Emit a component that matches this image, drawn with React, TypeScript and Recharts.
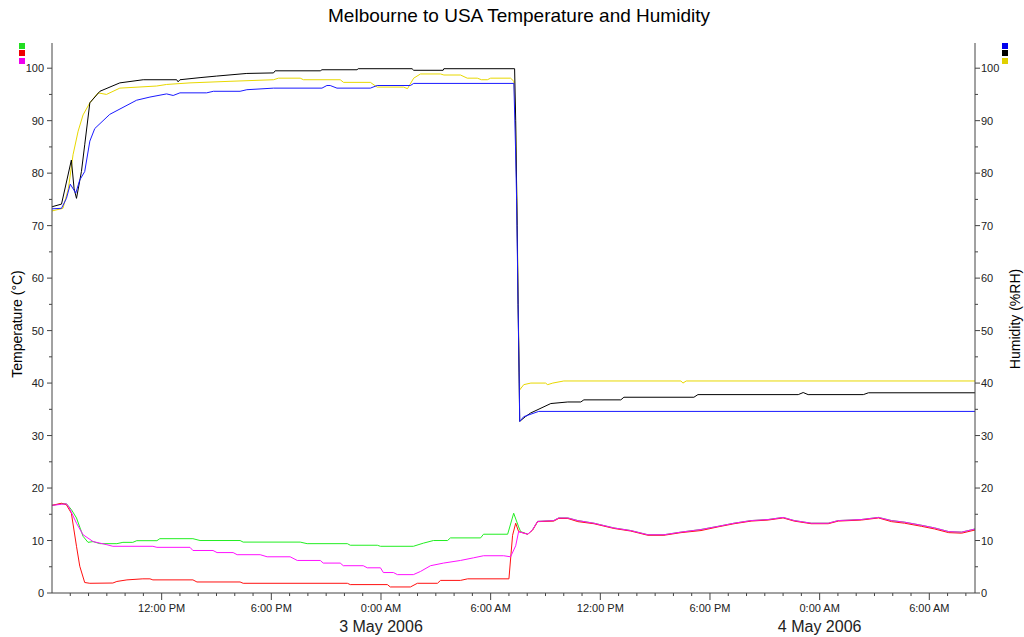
import React from 'react';
import { LineChart, Line, XAxis, YAxis } from 'recharts';

// time in hours after 6:00 AM, 2 May 2006 ; value
const tempGreen: [number, number][] = [
  [0, 16.7], [0.52, 17.0], [0.79, 17.0], [1.06, 15.9], [1.34, 14.3], [1.7, 10.8], [1.97, 9.65], [2.25, 9.8],
  [2.62, 9.4], [3.55, 9.4], [3.88, 9.65], [4.42, 9.65], [4.64, 9.97], [5.74, 9.97], [5.9, 10.35], [7.71, 10.35],
  [8.1, 10.0], [10.29, 10.0], [10.46, 9.7], [13.58, 9.7], [13.96, 9.4], [16.16, 9.4], [16.32, 9.1], [17.8, 9.1],
  [17.97, 8.9], [19.77, 8.9], [20.32, 9.5], [20.87, 10.0], [21.64, 10.0], [21.8, 10.5], [23.45, 10.5], [23.61, 11.2],
  [24.93, 11.2], [25.26, 15.2], [25.53, 12.6], [25.64, 11.7], [26.03, 11.2], [26.3, 12.1], [26.57, 13.65],
  [27.45, 13.8], [27.72, 14.3], [28.22, 14.3], [28.77, 13.8], [29.65, 13.3], [30.74, 12.4], [31.67, 11.9],
  [32.6, 11.1], [33.48, 11.1], [34.41, 11.6], [35.51, 12.1], [36.44, 12.7], [37.32, 13.3], [38.25, 13.8],
  [39.18, 14.0], [40.0, 14.4], [40.61, 13.8], [41.54, 13.3], [42.47, 13.3], [43.02, 13.8], [44.28, 14.0],
  [45.22, 14.4], [45.93, 13.8], [46.64, 13.5], [47.58, 12.9], [48.29, 12.4], [49.06, 11.7], [49.77, 11.6], [50.5, 12.2],
];

const tempRed: [number, number][] = [
  [0, 16.7], [0.52, 17.1], [0.79, 16.8], [1.06, 15.2], [1.34, 8.9], [1.52, 5.1], [1.79, 2.0], [2.07, 1.85],
  [3.33, 1.9], [3.55, 2.2], [4.1, 2.5], [4.97, 2.7], [5.36, 2.7], [5.52, 2.5], [7.71, 2.5], [7.93, 2.1],
  [10.29, 2.1], [10.46, 1.85], [16.16, 1.85], [16.32, 1.6], [18.35, 1.6], [18.51, 1.15], [19.61, 1.15],
  [19.99, 1.85], [21.09, 1.85], [21.26, 2.4], [22.35, 2.4], [22.74, 2.7], [25.0, 2.7], [25.2, 11.0],
  [25.37, 13.3], [25.53, 11.7], [26.03, 11.2], [26.3, 12.0], [26.57, 13.6], [27.45, 13.7], [27.72, 14.2],
  [28.22, 14.2], [28.77, 13.6], [29.65, 13.2], [30.74, 12.3], [31.67, 11.8], [32.6, 11.0], [33.48, 11.0],
  [34.41, 11.5], [35.51, 11.9], [36.44, 12.6], [37.32, 13.2], [38.25, 13.7], [39.18, 13.9], [40.0, 14.3],
  [40.61, 13.7], [41.54, 13.2], [42.47, 13.2], [43.02, 13.7], [44.28, 13.9], [45.22, 14.3], [45.93, 13.6],
  [46.64, 13.3], [47.58, 12.7], [48.29, 12.2], [49.06, 11.5], [49.77, 11.4], [50.5, 12.0],
];

const tempMagenta: [number, number][] = [
  [0, 16.7], [0.52, 16.9], [0.79, 17.0], [0.95, 16.2], [1.34, 13.3], [1.7, 11.1], [2.25, 9.8], [3.0, 9.2],
  [3.33, 8.9], [5.52, 8.9], [5.74, 8.7], [7.55, 8.7], [7.71, 8.1], [8.81, 8.1], [9.03, 7.7], [9.91, 7.7],
  [10.13, 7.3], [11.39, 7.3], [11.77, 6.9], [13.03, 6.9], [13.42, 6.2], [14.68, 6.2], [14.84, 5.7], [15.77, 5.7],
  [15.94, 5.2], [17.03, 5.2], [17.25, 4.8], [17.97, 4.8], [18.13, 3.9], [18.68, 3.9], [18.9, 3.5], [19.77, 3.5],
  [20.16, 4.1], [20.71, 5.2], [21.42, 5.7], [22.35, 6.2], [23.06, 6.7], [23.61, 7.1], [24.71, 7.1], [25.09, 6.9],
  [25.37, 9.0], [25.53, 11.7], [26.03, 11.2], [26.3, 12.1], [26.57, 13.65], [27.45, 13.8], [27.72, 14.3],
  [28.22, 14.3], [28.77, 13.8], [29.65, 13.3], [30.74, 12.4], [31.67, 11.9], [32.6, 11.1], [33.48, 11.1],
  [34.41, 11.6], [35.51, 12.1], [36.44, 12.7], [37.32, 13.3], [38.25, 13.8], [39.18, 14.0], [40.0, 14.4],
  [40.61, 13.8], [41.54, 13.3], [42.47, 13.3], [43.02, 13.8], [44.28, 14.0], [45.22, 14.4], [45.93, 13.8],
  [46.64, 13.5], [47.58, 12.9], [48.29, 12.4], [49.06, 11.7], [49.77, 11.6], [50.5, 12.2],
];

const humBlue: [number, number][] = [
  [0, 73.2], [0.52, 73.3], [0.79, 75.2], [1.0, 77.9], [1.3, 76.2], [1.52, 78.7], [1.79, 80.3], [2.07, 86.1],
  [2.34, 88.5], [3.16, 91.2], [4.63, 93.9], [5.36, 94.5], [6.27, 95.1], [6.63, 94.8], [7.0, 95.3], [8.46, 95.3],
  [8.83, 95.6], [10.29, 95.6], [10.66, 95.9], [12.12, 96.2], [14.77, 96.2], [15.04, 96.7], [15.22, 96.7],
  [15.59, 96.2], [17.42, 96.2], [17.79, 96.7], [19.61, 96.7], [19.79, 97.1], [25.27, 97.1], [25.36, 85.0],
  [25.42, 75.0], [25.5, 55.0], [25.56, 42.0], [25.59, 32.7], [25.81, 33.6], [26.63, 34.6], [50.5, 34.6],
];

const humBlack: [number, number][] = [
  [0, 73.6], [0.52, 74.1], [1.06, 82.5], [1.21, 77.0], [1.34, 75.2], [1.61, 80.3], [1.79, 85.4], [2.07, 93.4],
  [2.62, 95.6], [3.71, 97.2], [4.99, 97.8], [6.82, 97.8], [6.9, 97.4], [7.0, 97.8], [8.1, 98.2], [9.01, 98.5],
  [10.66, 99.0], [12.12, 99.1], [12.21, 99.5], [14.68, 99.5], [14.77, 99.7], [16.69, 99.7], [16.75, 99.9],
  [19.7, 99.9], [19.79, 99.6], [21.4, 99.6], [21.44, 99.9], [25.31, 99.9], [25.37, 90.0], [25.45, 70.0],
  [25.5, 55.0], [25.56, 40.0], [25.59, 32.7], [25.9, 33.6], [26.19, 34.3], [27.29, 36.1], [28.22, 36.4],
  [28.93, 36.4], [29.1, 36.8], [31.12, 36.8], [31.29, 37.3], [35.12, 37.3], [35.34, 37.8], [40.83, 37.8],
  [41.1, 38.2], [41.37, 37.8], [44.39, 37.8], [44.67, 38.15], [50.5, 38.15],
];

const humYellow: [number, number][] = [
  [0, 72.8], [0.6, 73.3], [0.9, 77.1], [1.15, 83.5], [1.43, 88.0], [1.7, 91.1], [2.07, 93.4], [2.52, 95.3],
  [2.98, 95.0], [3.71, 96.2], [5.72, 96.6], [6.27, 96.9], [7.55, 97.2], [9.74, 97.5], [12.12, 97.8], [12.39, 98.1],
  [13.58, 98.1], [13.76, 97.8], [15.77, 97.8], [15.95, 97.3], [17.42, 97.3], [17.79, 96.4], [19.24, 96.4],
  [19.45, 96.1], [19.79, 98.1], [20.16, 98.9], [21.26, 98.9], [21.44, 98.7], [22.35, 98.7], [22.72, 98.1],
  [23.27, 98.1], [23.5, 97.8], [23.82, 97.8], [24.0, 98.1], [25.09, 98.1], [25.27, 97.5], [25.36, 90.0],
  [25.45, 72.0], [25.53, 50.0], [25.59, 38.7], [25.81, 39.7], [26.2, 40.0], [27.0, 40.0], [27.12, 39.7],
  [27.4, 40.0], [28.0, 40.4], [34.41, 40.4], [34.52, 40.0], [34.7, 40.4], [50.5, 40.4],
];

const majorHours = [6, 12, 18, 24, 30, 36, 42, 48];
const majorLabels = ['12:00 PM', '6:00 PM', '0:00 AM', '6:00 AM', '12:00 PM', '6:00 PM', '0:00 AM', '6:00 AM'];
const dateHours = [18, 42];
const dateLabels = ['3 May 2006', '4 May 2006'];
const xTicks = [
  1, 2, 3, 4, 5, 6, 7, 8, 9, 10, 11, 12, 13, 14, 15, 16, 17, 18, 19, 20, 21, 22, 23, 24, 25,
  26, 27, 28, 29, 30, 31, 32, 33, 34, 35, 36, 37, 38, 39, 40, 41, 42, 43, 44, 45, 46, 47, 48, 49, 50,
];
const yTicks = [0, 5, 10, 15, 20, 25, 30, 35, 40, 45, 50, 55, 60, 65, 70, 75, 80, 85, 90, 95, 100];

const leftLegendColors = ['#22dd22', '#ee0000', '#ee00ee'];
const rightLegendColors = ['#0000ee', '#000000', '#e0d000'];

const FONT = '"Liberation Sans", Arial, sans-serif';
const AXIS = '#444444';
const TEXT = '#222222';

const rows = (arr: [number, number][]) => arr.map(([t, v]) => ({ t, v }));

const XTick = (props: any) => {
  const { x, y, payload } = props;
  const h = payload.value;
  const mi = majorHours.indexOf(h);
  const di = dateHours.indexOf(h);
  return (
    <g>
      <line x1={x} y1={y} x2={x} y2={y + (mi >= 0 ? 7 : 3)} stroke={AXIS} />
      {mi >= 0 && (
        <text x={x} y={y + 19} textAnchor="middle" fontSize={11} fill={TEXT} fontFamily={FONT}>
          {majorLabels[mi]}
        </text>
      )}
      {di >= 0 && (
        <text x={x} y={y + 39} textAnchor="middle" fontSize={16} fill={TEXT} fontFamily={FONT}>
          {dateLabels[di]}
        </text>
      )}
    </g>
  );
};

const YTickLeft = (props: any) => {
  const { x, y, payload } = props;
  const major = payload.value % 10 === 0;
  return (
    <g>
      <line x1={x - (major ? 5 : 3)} y1={y} x2={x} y2={y} stroke={AXIS} />
      {major && (
        <text x={x - 8} y={y + 4} textAnchor="end" fontSize={11} fill={TEXT} fontFamily={FONT}>
          {payload.value}
        </text>
      )}
    </g>
  );
};

const YTickRight = (props: any) => {
  const { x, y, payload } = props;
  const major = payload.value % 10 === 0;
  return (
    <g>
      <line x1={x} y1={y} x2={x + (major ? 5 : 3)} y2={y} stroke={AXIS} />
      {major && (
        <text x={x + 6} y={y + 4} textAnchor="start" fontSize={11} fill={TEXT} fontFamily={FONT}>
          {payload.value}
        </text>
      )}
    </g>
  );
};

export default function App() {
  return (
    <div style={{ position: 'fixed', left: 0, top: 0, width: 1024, height: 637, background: '#fff', fontFamily: FONT }}>
      <div style={{ position: 'absolute', left: 519, top: 5, transform: 'translateX(-50%)', whiteSpace: 'nowrap', fontSize: 19, color: '#000' }}>
        Melbourne to USA Temperature and Humidity
      </div>
      {leftLegendColors.map((c, i) => (
        <div key={'l' + i} style={{ position: 'absolute', left: 19, top: 43 + i * 7.3, width: 6, height: 6, background: c }} />
      ))}
      {rightLegendColors.map((c, i) => (
        <div key={'r' + i} style={{ position: 'absolute', left: 1002, top: 43 + i * 7.3, width: 6, height: 6, background: c }} />
      ))}
      <div style={{ position: 'absolute', left: 17, top: 324, transform: 'translate(-50%, -50%) rotate(-90deg)', whiteSpace: 'nowrap', fontSize: 14, color: '#000' }}>
        Temperature (°C)
      </div>
      <div style={{ position: 'absolute', left: 1015, top: 319, transform: 'translate(-50%, -50%) rotate(-90deg)', whiteSpace: 'nowrap', fontSize: 14, color: '#000' }}>
        Humidity (%RH)
      </div>
      <div style={{ position: 'absolute', left: 0, top: 0 }}>
        <LineChart width={1024} height={637} margin={{ top: 43, right: 9, bottom: 4, left: 12 }}>
          <XAxis
            dataKey="t"
            type="number"
            domain={[0, 50.5]}
            ticks={xTicks}
            interval={0}
            tickSize={0}
            tickMargin={0}
            tickLine={false}
            axisLine={{ stroke: AXIS }}
            tick={<XTick />}
            height={40}
            allowDataOverflow
          />
          <YAxis
            yAxisId="left"
            orientation="left"
            type="number"
            domain={[0, 104.8]}
            ticks={yTicks}
            interval={0}
            tickSize={0}
            tickMargin={0}
            tickLine={false}
            axisLine={{ stroke: AXIS }}
            tick={<YTickLeft />}
            width={40}
            allowDataOverflow
          />
          <YAxis
            yAxisId="right"
            orientation="right"
            type="number"
            domain={[0, 104.8]}
            ticks={yTicks}
            interval={0}
            tickSize={0}
            tickMargin={0}
            tickLine={false}
            axisLine={{ stroke: AXIS }}
            tick={<YTickRight />}
            width={40}
            allowDataOverflow
          />
          <Line yAxisId="right" data={rows(humYellow)} dataKey="v" stroke="#e8d800" strokeWidth={1} dot={false} type="linear" isAnimationActive={false} />
          <Line yAxisId="right" data={rows(humBlack)} dataKey="v" stroke="#000000" strokeWidth={1} dot={false} type="linear" isAnimationActive={false} />
          <Line yAxisId="right" data={rows(humBlue)} dataKey="v" stroke="#1a1aff" strokeWidth={1} dot={false} type="linear" isAnimationActive={false} />
          <Line yAxisId="left" data={rows(tempGreen)} dataKey="v" stroke="#22ee22" strokeWidth={1} dot={false} type="linear" isAnimationActive={false} />
          <Line yAxisId="left" data={rows(tempRed)} dataKey="v" stroke="#ff1010" strokeWidth={1} dot={false} type="linear" isAnimationActive={false} />
          <Line yAxisId="left" data={rows(tempMagenta)} dataKey="v" stroke="#ff10ff" strokeWidth={1} dot={false} type="linear" isAnimationActive={false} />
        </LineChart>
      </div>
    </div>
  );
}
